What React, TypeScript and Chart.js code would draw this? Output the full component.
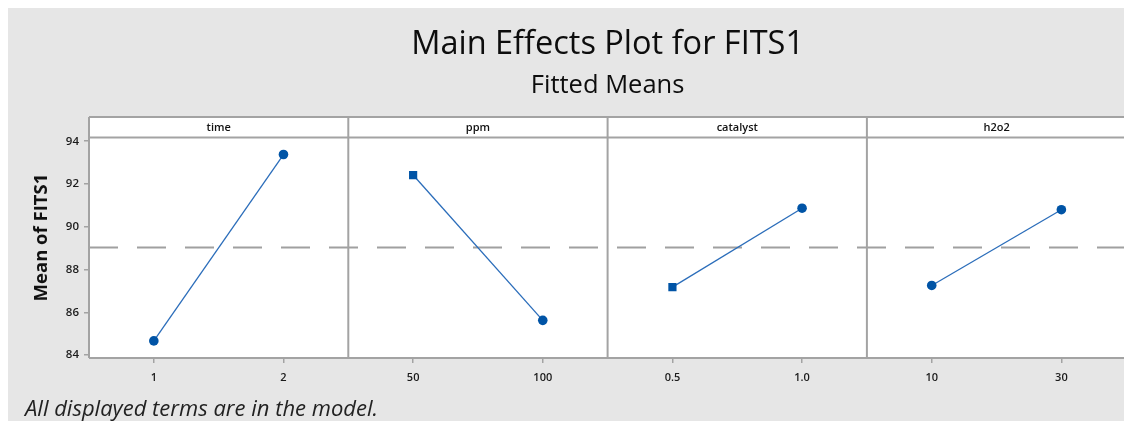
import React, { useEffect, useRef } from 'react';
import { Chart, registerables } from 'chart.js';

Chart.register(...registerables);

// ---- data ----
const factors = ['time', 'ppm', 'catalyst', 'h2o2'];
const timeLevels = ['1', '2'];
const timeMeans = [84.67, 93.38];
const ppmLevels = ['50', '100'];
const ppmMeans = [92.42, 85.63];
const catalystLevels = ['0.5', '1.0'];
const catalystMeans = [87.18, 90.87];
const h2o2Levels = ['10', '30'];
const h2o2Means = [87.26, 90.8];
const yTickValues = [84, 86, 88, 90, 92, 94];
const overallMean = 89.03;

const chartTitle = 'Main Effects Plot for FITS1';
const chartSubtitle = 'Fitted Means';
const yTitle = 'Mean of FITS1';
const footnote = 'All displayed terms are in the model.';

const levelsByFactor = [timeLevels, ppmLevels, catalystLevels, h2o2Levels];
const meansByFactor = [timeMeans, ppmMeans, catalystMeans, h2o2Means];
const markerStyles = [
  ['circle', 'circle'],
  ['rect', 'circle'],
  ['rect', 'circle'],
  ['circle', 'circle'],
];

const FONT = "'Open Sans', 'Noto Sans', sans-serif";
const BORDER = '#A3A3A3';
const HEADER_H = 20.5;

const panelPlugin = {
  id: 'panelPlugin',
  beforeDraw(chart: any) {
    const { ctx, chartArea: a, width, height } = chart;
    ctx.save();
    ctx.fillStyle = '#E6E6E6';
    ctx.fillRect(0, 0, width, height);
    ctx.fillStyle = '#FFFFFF';
    ctx.fillRect(a.left, a.top - HEADER_H, a.right - a.left, a.bottom - a.top + HEADER_H);
    ctx.restore();
  },
  afterDraw(chart: any) {
    const { ctx, chartArea: a } = chart;
    const xs = chart.scales.x;
    const top = a.top - HEADER_H;
    ctx.save();
    ctx.strokeStyle = BORDER;
    ctx.lineWidth = 2;
    ctx.beginPath();
    ctx.moveTo(a.left, top);
    ctx.lineTo(a.right, top);
    ctx.moveTo(a.left, a.top);
    ctx.lineTo(a.right, a.top);
    ctx.moveTo(a.left, a.bottom);
    ctx.lineTo(a.right, a.bottom);
    for (let p = 0; p <= factors.length; p++) {
      const x = xs.getPixelForValue(p * 2);
      ctx.moveTo(x, top);
      ctx.lineTo(x, a.bottom);
    }
    ctx.stroke();

    // panel headers
    ctx.fillStyle = '#111111';
    ctx.font = `600 11px ${FONT}`;
    ctx.textAlign = 'center';
    ctx.textBaseline = 'middle';
    factors.forEach((f, p) => {
      ctx.fillText(f, xs.getPixelForValue(p * 2 + 1), top + HEADER_H / 2 + 0.5);
    });

    // y axis title
    ctx.save();
    ctx.translate(34, (top + a.bottom) / 2);
    ctx.rotate(-Math.PI / 2);
    ctx.font = `bold 18.5px ${FONT}`;
    ctx.fillStyle = '#111111';
    ctx.fillText(yTitle, 0, 0);
    ctx.restore();

    // footnote
    ctx.font = `italic 22px ${FONT}`;
    ctx.fillStyle = '#222222';
    ctx.textAlign = 'left';
    ctx.textBaseline = 'middle';
    ctx.fillText(footnote, 17, 402);
    ctx.restore();
  },
};

export default function App() {
  const ref = useRef<HTMLCanvasElement | null>(null);

  useEffect(() => {
    if (!ref.current) return;
    const flatLevels = levelsByFactor.flat();
    const tickPositions: number[] = [];
    levelsByFactor.forEach((lv, p) => lv.forEach((_, i) => tickPositions.push(p * 2 + i + 0.5)));

    const datasets: any[] = meansByFactor.map((means, p) => ({
      label: factors[p],
      data: means.map((y, i) => ({ x: p * 2 + i + 0.5, y })),
      borderColor: '#2B6DBA',
      borderWidth: 1.3,
      backgroundColor: '#0054A6',
      pointBackgroundColor: '#0054A6',
      pointBorderColor: '#0054A6',
      pointStyle: markerStyles[p],
      pointRadius: markerStyles[p].map((s) => (s === 'rect' ? 5.8 : 4.8)),
      pointBorderWidth: 0,
      tension: 0,
      order: 0,
    }));
    datasets.push({
      label: 'mean',
      data: [
        { x: 0, y: overallMean },
        { x: factors.length * 2, y: overallMean },
      ],
      borderColor: '#A0A0A0',
      borderWidth: 2,
      borderDash: [29, 19],
      pointRadius: 0,
      order: 1,
    });

    const chart = new Chart(ref.current, {
      type: 'line',
      data: { datasets },
      plugins: [panelPlugin],
      options: {
        animation: false,
        responsive: false,
        devicePixelRatio: 1,
        layout: { padding: { left: 0, right: 5, top: 0, bottom: 0 } },
        plugins: {
          legend: { display: false },
          tooltip: { enabled: false },
          title: {
            display: true,
            text: chartTitle,
            fullSize: false,
            color: '#0D0D0D',
            font: { family: FONT, size: 32.5, weight: '500' },
            padding: { top: 17, bottom: 5 },
          },
          subtitle: {
            display: true,
            text: chartSubtitle,
            fullSize: false,
            color: '#0D0D0D',
            font: { family: FONT, size: 25.5, weight: '500' },
            padding: { top: 1, bottom: 37 },
          },
        },
        scales: {
          x: {
            type: 'linear',
            position: 'bottom',
            min: 0,
            max: factors.length * 2,
            afterBuildTicks: (s: any) => {
              s.ticks = tickPositions.map((v) => ({ value: v }));
            },
            afterFit: (s: any) => {
              s.height = 63;
            },
            ticks: {
              autoSkip: false,
              maxRotation: 0,
              padding: 8,
              color: '#1A1A1A',
              font: { family: FONT, size: 11, weight: '600' },
              callback: (_v: any, i: number) => flatLevels[i],
            },
            grid: {
              display: true,
              drawOnChartArea: false,
              drawTicks: true,
              tickLength: 5,
              color: BORDER,
              lineWidth: 1.5,
            },
            border: { display: false },
          },
          y: {
            type: 'linear',
            position: 'left',
            min: 83.87,
            max: 94.17,
            afterBuildTicks: (s: any) => {
              s.ticks = yTickValues.map((v) => ({ value: v }));
            },
            afterFit: (s: any) => {
              s.width = 81;
            },
            ticks: {
              padding: 5,
              color: '#1A1A1A',
              font: { family: FONT, size: 11.5, weight: '600' },
            },
            grid: {
              display: true,
              drawOnChartArea: false,
              drawTicks: true,
              tickLength: 5,
              color: BORDER,
              lineWidth: 1.5,
            },
            border: { display: false },
          },
        },
      },
    });
    return () => chart.destroy();
  }, []);

  return (
    <div
      style={{
        position: 'absolute',
        left: 8,
        top: 8,
        right: 0,
        bottom: 0,
        overflow: 'hidden',
      }}
    >
      <canvas ref={ref} width={1124} height={413} style={{ display: 'block', width: 1124, height: 413 }} />
    </div>
  );
}
